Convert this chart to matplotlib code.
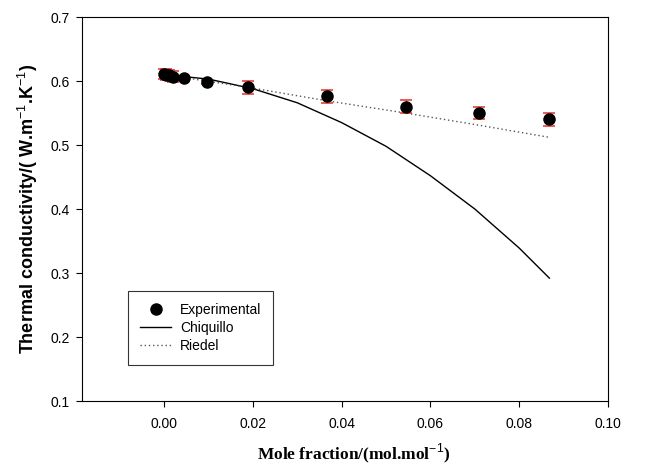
import matplotlib
matplotlib.use("Agg")
import matplotlib.pyplot as plt
from matplotlib.lines import Line2D
import numpy as np

plt.rcParams['font.family'] = ['Liberation Sans', 'DejaVu Sans']
plt.rcParams['mathtext.fontset'] = 'custom'
plt.rcParams['mathtext.rm'] = 'Liberation Sans'
plt.rcParams['mathtext.bf'] = 'Liberation Sans:bold'

# experimental data
x_exp = [0.0, 0.0005, 0.0011, 0.0021, 0.0044, 0.0096, 0.0190, 0.0368, 0.0544, 0.0709, 0.0868]
y_exp = [0.611, 0.610, 0.609, 0.607, 0.605, 0.598, 0.590, 0.576, 0.560, 0.550, 0.540]
err_exp = [0.008, 0.008, 0.008, 0.008, 0.003, 0.003, 0.010, 0.010, 0.010, 0.010, 0.010]

# Chiquillo model
x_chiq = [0.0, 0.01, 0.02, 0.03, 0.04, 0.05, 0.06, 0.07, 0.08, 0.0868]
y_chiq = [0.610, 0.603, 0.588, 0.566, 0.535, 0.498, 0.452, 0.400, 0.339, 0.292]

# Riedel model
x_riedel = [0.0, 0.0190, 0.0368, 0.0544, 0.0709, 0.0868]
y_riedel = [0.610, 0.590, 0.569, 0.550, 0.531, 0.512]

fig = plt.figure(figsize=(6.47, 4.65), dpi=100)
ax = fig.add_axes([0.1267, 0.1376, 0.8130, 0.8258])

ax.plot(x_chiq, y_chiq, color='black', lw=1.0)
ax.plot(x_riedel, y_riedel, color='#555555', lw=1.0, ls=(0, (1, 2)))
ax.errorbar(x_exp, y_exp, yerr=err_exp, fmt='o', color='black', ms=8,
            ecolor='#e8413a', elinewidth=1.0, capsize=4.5, capthick=1.2,
            zorder=5)

ax.set_xlim(-0.0185, 0.10)
ax.set_ylim(0.1, 0.7)
ax.set_xticks(np.arange(0.0, 0.101, 0.02))
ax.set_xticklabels(["0.00", "0.02", "0.04", "0.06", "0.08", "0.10"])
ax.set_yticks(np.arange(0.1, 0.71, 0.1))
ax.set_yticklabels(["0.1", "0.2", "0.3", "0.4", "0.5", "0.6", "0.7"])
ax.tick_params(direction='out', length=4, width=0.8, labelsize=10)
ax.tick_params(axis='x', pad=7.5)
ax.tick_params(axis='y', pad=5)

ax.set_ylabel(r"Thermal conductivity/( W.m$^{-1}$.K$^{-1}$)",
              fontsize=13, fontweight='bold', labelpad=7)
ax.set_xlabel("Mole fraction/(mol.mol$^{-1}$)", fontsize=12.5,
              fontweight='bold', family='Liberation Serif')
ax.xaxis.set_label_coords(0.517, -0.104)

handles = [
    Line2D([], [], ls='none', marker='o', color='black', ms=8),
    Line2D([], [], color='black', lw=1.0),
    Line2D([], [], color='#555555', lw=1.0, ls=(0, (1, 2))),
]
labels = ["Experimental", "Chiquillo", "Riedel"]
leg = ax.legend(handles, labels, loc='lower left', bbox_to_anchor=(0.087, 0.094),
                fancybox=False, edgecolor='black', fontsize=10,
                handlelength=2.3, handletextpad=0.6, borderpad=0.85,
                labelspacing=0.3, borderaxespad=0)
leg.get_frame().set_linewidth(0.8)

fig.savefig("out.png", dpi=100)
